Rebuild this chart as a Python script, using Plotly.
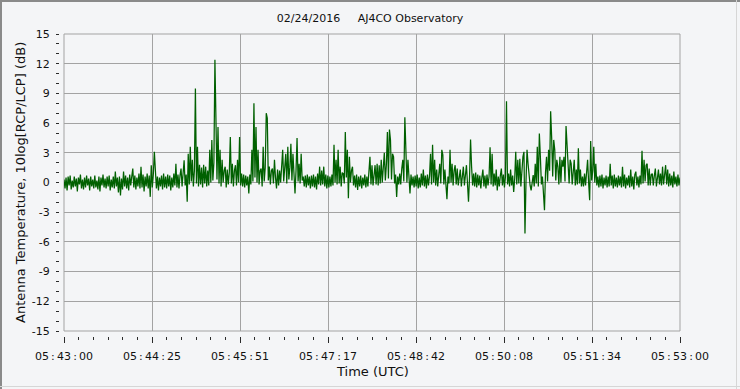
import plotly.graph_objects as go

# ---------------- data ----------------
title_text = "02/24/2016\u00a0\u00a0\u00a0\u00a0 AJ4CO Observatory"
x_title = "Time (UTC)"
y_title = "Antenna Temperature, 10log[RCP/LCP] (dB)"

# sample spacing in seconds, starting at 05:43:00 UTC
sample_interval_s = 1
values = [
    0.3, -0.6, 0.5, -0.8, 0.6, -0.3, 0.7, -0.7, 0.2, -0.5,
    0.6, -0.4, 0.4, -0.9, 0.5, -0.2, 0.8, -0.6, 0.3, -0.7,
    0.5, -0.5, 0.7, -0.3, 0.4, -0.8, 0.6, -0.4, 0.3, -0.6,
    0.7, -0.5, 0.2, -0.7, 0.6, -0.9, 0.5, -0.3, 0.8, -0.5,
    0.4, -0.6, 0.6, -0.4, 0.7, -0.8, 0.3, -0.5, 0.6, -0.6,
    1.1, -0.4, 0.5, -1.0, 0.6, -1.3, 0.4, -0.7, 1.1, -0.4,
    0.7, -0.6, 0.5, -0.8, 0.8, -0.3, 0.6, 1.4, -0.5, 0.7,
    -0.7, 0.5, -0.4, 0.9, -0.6, 1.6, -0.5, 0.8, -0.9, 0.6,
    -0.4, 0.9, -0.6, 0.7, -1.45, 1.75, -0.5, 0.8, 3.1, 1.7,
    -0.6, 0.6, -0.8, 0.5, -0.4, 0.7, -0.7, 0.9, -0.5, 0.6,
    -0.6, 0.8, -0.4, 0.7, -0.8, 0.5, -0.5, 0.9, -0.3, 1.9,
    -0.5, 0.8, -0.6, 0.7, 1.4, -0.4, 0.9, 2.25, -0.3, 0.8,
    -1.95, 2.9, -0.2, 3.6, 0.1, 2.3, -0.4, 1.2, 9.5, -0.1,
    3.6, -0.4, 1.8, -0.2, 1.5, -0.5, 1.8, -0.1, 1.6, -0.4,
    1.2, -0.3, 3.3, 0.0, 4.3, 0.2, 2.0, 12.4, 6.3, 0.3,
    5.6, -0.1, 3.3, -0.4, 2.3, 0.0, 1.2, 1.6, -0.5, 1.3,
    -0.2, 1.0, 4.6, -0.1, 1.9, -0.4, 1.2, 1.75, -0.3, 2.3,
    0.0, 4.6, -0.3, 0.9, -0.4, 0.8, -0.5, 0.7, -0.3, 0.6,
    -1.1, 0.8, -0.2, 3.3, 0.1, 8.0, 0.5, 5.6, 0.0, 3.3,
    -0.2, 1.2, 1.4, -0.4, 3.6, 0.1, 1.5, 7.0, 6.5, 0.2,
    1.6, -0.2, 1.2, 1.4, -0.1, 2.3, 0.5, -0.6, 1.3, -0.3,
    1.2, 0.0, 1.6, 3.3, 0.1, 1.8, 2.9, -0.1, 3.6, 0.3,
    1.5, 3.9, 0.2, 2.9, 0.5, -1.1, 1.2, 4.5, 0.1, 1.9,
    -0.1, 2.9, 0.2, 0.6, -0.4, 0.7, -0.5, 0.8, -0.3, 0.6,
    -0.6, 0.7, -0.4, 0.8, -0.5, 0.6, -0.7, 0.9, -0.2, 1.6,
    -0.3, 1.2, -0.2, 1.6, -0.4, 0.8, -0.6, 0.7, -0.5, 0.6,
    -0.4, 0.8, -0.3, 3.8, 0.0, 2.3, -0.2, 3.3, -0.1, 1.6,
    -0.4, 1.0, 0.9, -0.1, 5.1, 0.5, 3.3, -1.6, 2.6, 0.0,
    1.2, 1.6, -0.3, 0.7, -0.5, 0.8, -0.75, 0.6, -0.4, 0.7,
    -0.6, 0.5, -0.3, 0.8, -0.5, 0.6, -0.4, 0.9, 2.6, -0.2,
    1.75, -0.3, 1.0, 1.75, -0.2, 1.9, -0.3, 1.75, -0.1, 2.3,
    0.0, 1.5, 3.0, 0.2, 1.8, 5.1, 0.4, 5.35, 4.3, 0.3,
    2.9, 2.6, -0.1, 0.8, -1.45, 0.6, -0.2, 0.9, -0.2, 1.4,
    2.3, 0.1, 6.6, 3.3, 0.0, 2.3, -0.2, -1.1, 0.8, -0.3,
    0.6, -0.5, 0.7, -0.4, 0.8, -0.6, 0.5, -0.5, 0.9, -0.3,
    1.3, -0.4, 0.7, -0.6, 0.8, -0.3, 0.6, 2.9, -0.2, 3.8,
    0.0, 2.3, -0.3, 1.3, -0.4, 1.0, 1.9, -0.1, 3.3, 2.8,
    -0.2, 1.3, -0.3, -1.7, 0.6, -0.1, 3.3, 0.0, 1.9, -0.3,
    1.2, 1.75, -0.2, 1.4, -0.3, 0.9, 1.3, -0.4, 0.8, 1.6,
    -0.3, 1.0, 1.75, -0.1, -1.95, 0.5, 4.35, 1.6, -0.3, 0.9,
    -0.4, 1.0, -0.5, 0.8, -0.3, 0.7, -0.6, 0.5, 1.3, -0.4,
    0.7, -0.6, 0.8, -0.3, 0.6, 3.55, -0.2, 2.9, -0.4, 0.9,
    -0.3, 1.3, -0.8, 0.6, -0.4, 0.7, 1.4, -0.3, 0.8, -0.5,
    0.6, 8.2, -0.2, 0.9, -0.4, 1.3, -0.3, 0.7, -0.95, 0.4,
    3.1, -0.2, 2.3, -0.1, 2.4, -0.4, 1.3, 2.6, 3.1, -5.15,
    0.1, 3.3, 1.9, 0.5, -0.3, -0.8, 0.2, 0.75, -0.4, 1.9,
    -0.1, 3.6, -0.4, 4.95, 2.6, -0.2, 0.6, -0.9, -2.8, 1.0,
    2.6, 0.1, 3.3, 1.2, 7.2, 4.5, 0.6, 4.3, 3.3, 0.2,
    2.3, 1.6, -0.2, 2.6, 0.0, 2.3, 1.6, 2.6, 0.1, 5.7,
    3.8, 2.9, -0.1, 2.3, 1.9, -0.2, 0.9, 2.3, -0.3, 1.3,
    -0.2, 3.45, -0.1, 1.3, -0.4, 0.6, -0.4, 0.9, -0.3, 1.3,
    2.3, 0.0, -1.8, 4.2, 0.2, 1.2, 3.6, 0.0, 1.9, -0.3,
    0.6, -0.5, 0.7, -0.4, 0.8, -0.6, 0.5, -0.3, 0.7, -0.5,
    0.6, -0.4, 1.9, -0.3, 0.7, -0.6, 0.8, -0.4, 0.5, -0.5,
    0.7, -0.3, 0.6, -0.5, 1.6, -0.4, 0.8, -0.6, 0.5, -0.3,
    0.7, -0.5, 1.3, -0.4, 0.6, -0.7, 0.8, 1.1, -0.3, 0.6,
    -0.5, 0.7, -0.2, 3.2, -0.1, 2.3, 0.1, 1.75, 1.9, -0.3,
    1.4, -0.3, 0.8, 0.9, -0.3, 0.7, 1.4, -0.4, 0.8, 1.3,
    -0.2, 0.9, -0.3, 1.6, -0.2, 0.8, 1.75, -0.2, 1.3, -0.4,
    0.9, -0.3, 0.7, -0.5, 1.1, -0.2, 0.6, -0.4, 0.8, -0.3,
    0.5,
]
t_sec = [i * sample_interval_s for i in range(len(values))]

x_range = [0, 600]
x_tick_labels = ["05:43:00", "05:44:25", "05:45:51", "05:47:17",
                 "05:48:42", "05:50:08", "05:51:34", "05:53:00"]
y_range = [-15, 15]
y_tick_vals = [-15, -12, -9, -6, -3, 0, 3, 6, 9, 12, 15]
y_tick_labels = ["-15", "-12", "-9", "-6", "-3", "0", "3", "6", "9", "12", "15"]

# ---------------- layout (pixels) ----------------
W, H = 740, 389
PL, PR, PT, PB = 59, 680, 34, 336      # paper area (axes lines drawn here)
FL, FB = 64, 331                      # plot frame left / bottom
pw, ph = PR - PL, PB - PT


def px(xp):
    return (xp - PL) / pw


def py(yp):
    return (PB - yp) / ph


BG = "#f4f5f7"
GRID = "#a3a3a3"
TICK = "#2b2b2b"
TXT = "#111111"
FONT = "DejaVu Sans"

n_major = len(x_tick_labels) - 1
x_tick_vals = [x_range[0] + i * (x_range[1] - x_range[0]) / n_major for i in range(n_major + 1)]
x_minor_vals = [x_range[0] + i * (x_range[1] - x_range[0]) / (n_major * 6) for i in range(n_major * 6 + 1)]
y_minor_vals = list(range(y_range[0], y_range[1] + 1))

fig = go.Figure()
fig.add_trace(go.Scatter(
    x=t_sec, y=values, mode="lines",
    line=dict(color="#006000", width=1.25),
    hoverinfo="skip",
))

fig.update_layout(
    width=W, height=H,
    margin=dict(l=PL, r=W - PR, t=PT, b=H - PB, autoexpand=False),
    paper_bgcolor=BG, plot_bgcolor=BG,
    showlegend=False,
    title=dict(text=title_text, x=0.5, xref="container", xanchor="center",
               y=1 - 18 / H, yref="container", yanchor="middle",
               font=dict(family=FONT, size=11, color=TXT)),
    xaxis=dict(
        domain=[px(FL), 1], anchor="free", position=0,
        range=x_range, tickmode="array", tickvals=x_tick_vals,
        ticktext=[s.replace(":", "\u2009:\u2009") for s in x_tick_labels],
        ticks="outside", ticklen=6, tickwidth=1, tickcolor=TICK,
        ticklabelstandoff=4,
        showgrid=True, gridcolor=GRID, gridwidth=1,
        showline=False, zeroline=False,
        tickfont=dict(family=FONT, size=11, color=TXT),
        minor=dict(tickmode="array", tickvals=x_minor_vals, ticks="outside",
                   ticklen=3, tickwidth=1, tickcolor=TICK, showgrid=False),
    ),
    yaxis=dict(
        domain=[py(FB), 1], anchor="free", position=0,
        range=y_range, tickmode="array", tickvals=y_tick_vals,
        ticktext=y_tick_labels,
        ticks="outside", ticklen=2, tickwidth=1, tickcolor=TICK,
        ticklabelstandoff=5,
        showgrid=True, gridcolor=GRID, gridwidth=1,
        showline=False, zeroline=False,
        tickfont=dict(family=FONT, size=11, color=TXT),
        minor=dict(tickmode="array", tickvals=y_minor_vals, ticks="outside",
                   ticklen=3, tickwidth=1, tickcolor=TICK, showgrid=False),
    ),
    annotations=[
        dict(text=x_title, xref="paper", yref="paper", x=px(372.5), y=py(371.5),
             xanchor="center", yanchor="middle", showarrow=False,
             font=dict(family=FONT, size=13, color=TXT)),
        dict(text=y_title, xref="paper", yref="paper", x=px(20), y=py(183),
             xanchor="center", yanchor="middle", showarrow=False, textangle=-90,
             font=dict(family=FONT, size=13, color=TXT)),
    ],
    shapes=[
        dict(type="rect", xref="x domain", yref="y domain", x0=0, x1=1, y0=0, y1=1,
             line=dict(color=GRID, width=1), layer="below"),
        # outer sunken frame of the image
        dict(type="line", xref="paper", yref="paper", x0=px(1), x1=px(1), y0=py(0), y1=py(H),
             line=dict(color="#8a8a8a", width=2)),
        dict(type="line", xref="paper", yref="paper", x0=px(0), x1=px(W), y0=py(1), y1=py(1),
             line=dict(color="#8a8a8a", width=2)),
        dict(type="line", xref="paper", yref="paper", x0=px(0), x1=px(W), y0=py(386.5), y1=py(386.5),
             line=dict(color="#d6d6d6", width=1)),
        dict(type="line", xref="paper", yref="paper", x0=px(736.5), x1=px(736.5), y0=py(0), y1=py(H),
             line=dict(color="#d6d6d6", width=1)),
    ],
)

fig.write_html("out.html", config={"displayModeBar": False},
               post_script="document.body.style.margin='0';")
